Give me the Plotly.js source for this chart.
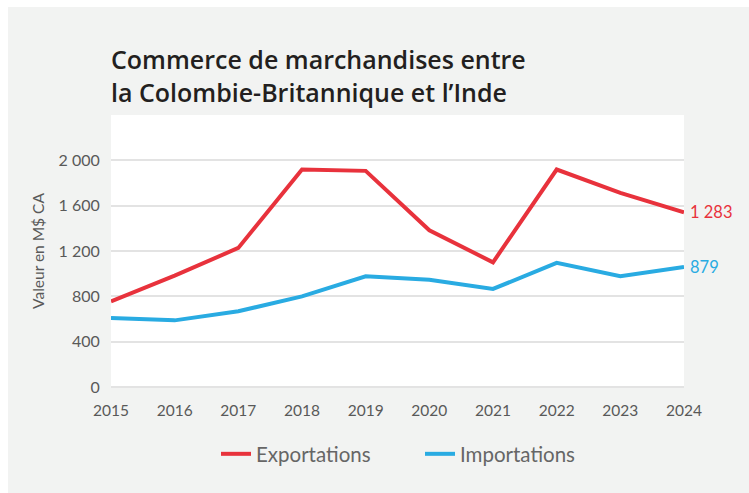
<!DOCTYPE html>
<html>
<head>
<meta charset="utf-8">
<script src="https://cdn.plot.ly/plotly-3.0.1.min.js"></script>
<style>
html,body{margin:0;padding:0;background:#ffffff;width:749px;height:493px;overflow:hidden;}
#chart{position:absolute;left:8px;top:7px;width:741px;height:486px;}
</style>
</head>
<body>
<div id="chart"></div>
<script>
const years = [2015, 2016, 2017, 2018, 2019, 2020, 2021, 2022, 2023, 2024];
const exportations = [756, 983, 1227, 1919, 1907, 1383, 1100, 1919, 1713, 1542];
const importations = [609, 588, 668, 800, 977, 947, 865, 1095, 977, 1060];
const seriesNames = ['Exportations', 'Importations'];
const endLabels = ['1 283', '879'];
const yTickVals = [0, 400, 800, 1200, 1600, 2000, 2400];
const yTickText = ['0', '400', '800', '1 200', '1 600', '2 000', ''];
const titleText = 'Commerce de marchandises entre<br>la Colombie-Britannique et l’Inde';
const yTitle = 'Valeur en M$ CA';

const red = '#e8323c';
const blue = '#29abe2';
const FONT = 'Lato, "Open Sans", sans-serif';

const traces = [
  {x: years, y: exportations, name: seriesNames[0], type: 'scatter', mode: 'lines',
   line: {color: red, width: 4}, hoverinfo: 'skip'},
  {x: years, y: importations, name: seriesNames[1], type: 'scatter', mode: 'lines',
   line: {color: blue, width: 4}, hoverinfo: 'skip'}
];

const layout = {
  width: 741, height: 486,
  paper_bgcolor: '#f2f3f2',
  plot_bgcolor: '#ffffff',
  margin: {l: 103, r: 65, t: 108, b: 106},
  font: {family: FONT, color: '#595959', size: 16},
  title: {
    text: titleText,
    font: {family: '"Open Sans", Lato, sans-serif', size: 25, color: '#231f20', weight: 600},
    xref: 'container', x: 103/741, xanchor: 'left',
    yref: 'container', y: 1 - 62/486, yanchor: 'top'
  },
  xaxis: {
    range: [2015, 2024],
    tickvals: years,
    showgrid: false,
    zeroline: false,
    showline: false,
    ticks: 'outside', ticklen: 0, tickcolor: 'rgba(0,0,0,0)',
    ticklabelstandoff: 9,
    tickfont: {size: 15.5, color: '#595959'},
    fixedrange: true
  },
  yaxis: {
    range: [0, 2400],
    tickvals: yTickVals,
    ticktext: yTickText,
    showgrid: true, gridcolor: '#e3e3e3', gridwidth: 2,
    zeroline: true, zerolinecolor: '#e3e3e3', zerolinewidth: 2,
    showline: false,
    ticks: 'outside', ticklen: 0, tickcolor: 'rgba(0,0,0,0)',
    ticklabelstandoff: 7,
    tickfont: {size: 16, color: '#595959'},
    title: {text: yTitle, font: {size: 15.5, color: '#595959'}, standoff: 10},
    fixedrange: true
  },
  showlegend: true,
  legend: {
    orientation: 'h',
    xref: 'container', x: 412/741, xanchor: 'center',
    yref: 'container', y: 1 - 447/486, yanchor: 'middle',
    font: {size: 20.5, color: '#666666', family: FONT},
    entrywidth: 159, entrywidthmode: 'pixels',
    bgcolor: 'rgba(0,0,0,0)'
  },
  annotations: [
    {x: years[years.length-1], y: exportations[exportations.length-1], xref: 'x', yref: 'y',
     text: endLabels[0], showarrow: false, xanchor: 'left', yanchor: 'middle', xshift: 4,
     font: {size: 16.5, color: red, family: FONT}},
    {x: years[years.length-1], y: importations[importations.length-1], xref: 'x', yref: 'y',
     text: endLabels[1], showarrow: false, xanchor: 'left', yanchor: 'middle', xshift: 4,
     font: {size: 16.5, color: blue, family: FONT}}
  ]
};

Plotly.newPlot('chart', traces, layout, {displayModeBar: false, staticPlot: true});
</script>
</body>
</html>
